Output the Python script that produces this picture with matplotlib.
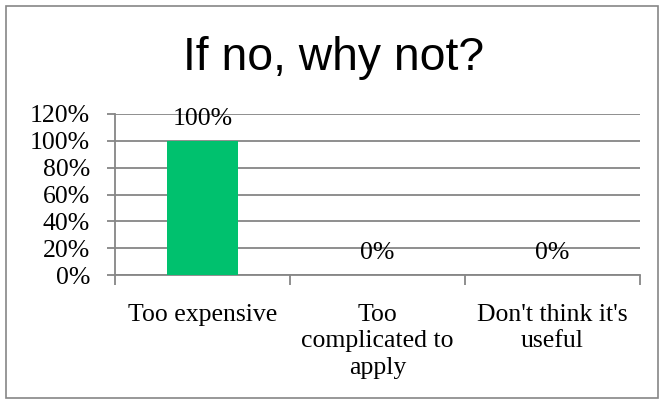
import matplotlib
matplotlib.use("Agg")
import matplotlib.pyplot as plt
from matplotlib.patches import Rectangle
from matplotlib.ticker import FuncFormatter

categories = ["Too expensive", "Too\ncomplicated to\napply", "Don't think it's\nuseful"]
values = [1.0, 0.0, 0.0]
yticks = [0, 0.2, 0.4, 0.6, 0.8, 1.0, 1.2]

GRAY = "#868686"
GREEN = "#00C16E"
SERIF = ["Liberation Serif", "DejaVu Serif"]
FS = 18.5

fig = plt.figure(figsize=(6.65, 4.04), dpi=100)
fig.patches.append(Rectangle((6 / 665, 6 / 404), 652 / 665, 392 / 404,
                             transform=fig.transFigure, fill=False,
                             edgecolor=GRAY, lw=1.2))

ax = fig.add_axes([115 / 665, (404 - 275) / 404, 525 / 665, 161 / 404])
x = range(len(categories))
ax.bar(x, values, width=0.41, color=GREEN, zorder=3)
for xi, v in zip(x, values):
    ax.annotate(f"{v:.0%}", (xi, v), xytext=(0, 8), textcoords="offset points",
                ha="center", va="bottom", fontsize=FS, family=SERIF)

ax.set_xlim(-0.5, len(categories) - 0.5)
ax.set_ylim(0, 1.2)
ax.set_yticks(yticks)
ax.yaxis.set_major_formatter(FuncFormatter(lambda v, _: f"{v:.0%}"))
ax.yaxis.grid(True, color=GRAY, lw=1.3, zorder=0)

# category boundaries carry the tick marks, labels sit at the centres
ax.set_xticks([-0.5, 0.5, 1.5, 2.5])
ax.set_xticklabels([])
ax.set_xticks(list(x), minor=True)
ax.set_xticklabels(categories, minor=True, fontsize=FS, family=SERIF,
                   linespacing=1.25, va="top")
ax.tick_params(axis="x", which="minor", length=0, pad=21)
ax.tick_params(axis="x", which="major", length=7, color=GRAY, width=1.3)
ax.tick_params(axis="y", length=6, color=GRAY, width=1.3, pad=12, labelsize=FS)
for lbl in ax.get_yticklabels():
    lbl.set_family(SERIF)

for side in ["top", "right"]:
    ax.spines[side].set_visible(False)
for side in ["left", "bottom"]:
    ax.spines[side].set_color(GRAY)
    ax.spines[side].set_linewidth(1.3)

fig.text(334 / 665, 1 - 70 / 404, "If no, why not?", ha="center", va="baseline",
         fontsize=33.3, family=["Liberation Sans", "DejaVu Sans"])

fig.savefig("out.png", dpi=100)
